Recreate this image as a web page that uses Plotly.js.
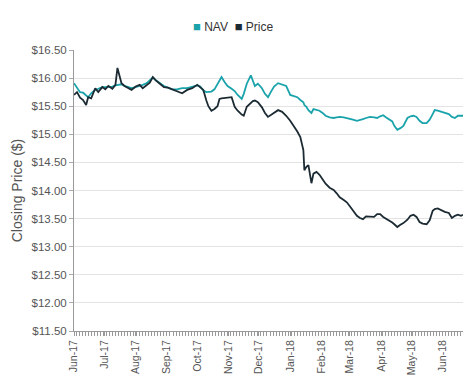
<!DOCTYPE html>
<html>
<head>
<meta charset="utf-8">
<script src="https://cdn.plot.ly/plotly-3.0.1.min.js"></script>
<style>html,body{margin:0;padding:0;background:#fff;}#chart{width:474px;height:382px;}</style>
</head>
<body>
<div id="chart"></div>
<script>
const dates = [
"2017-06-01","2017-06-04","2017-06-07","2017-06-10","2017-06-13","2017-06-15","2017-06-18","2017-06-22","2017-06-25","2017-06-29",
"2017-07-02","2017-07-05","2017-07-09","2017-07-12","2017-07-14","2017-07-16","2017-07-18","2017-07-21","2017-07-24","2017-07-28",
"2017-08-01","2017-08-05","2017-08-08","2017-08-12","2017-08-15","2017-08-18","2017-08-21","2017-08-25","2017-08-29","2017-09-02",
"2017-09-06","2017-09-11","2017-09-16","2017-09-21","2017-09-26","2017-10-01","2017-10-04","2017-10-07","2017-10-10","2017-10-12",
"2017-10-15","2017-10-18","2017-10-21","2017-10-23","2017-10-25","2017-10-28","2017-10-31","2017-11-04","2017-11-07","2017-11-10",
"2017-11-14","2017-11-16","2017-11-19","2017-11-23","2017-11-25","2017-11-27","2017-11-30","2017-12-04","2017-12-07","2017-12-10",
"2017-12-13","2017-12-16","2017-12-20","2017-12-24","2017-12-28","2018-01-01","2018-01-05","2018-01-08","2018-01-11","2018-01-14",
"2018-01-15","2018-01-17","2018-01-19","2018-01-22","2018-01-24","2018-01-27","2018-01-30","2018-02-02","2018-02-05","2018-02-09",
"2018-02-13","2018-02-16","2018-02-19","2018-02-23","2018-02-26","2018-03-01","2018-03-04","2018-03-08","2018-03-11","2018-03-14",
"2018-03-17","2018-03-21","2018-03-25","2018-03-28","2018-03-31","2018-04-03","2018-04-06","2018-04-09","2018-04-12","2018-04-14",
"2018-04-17","2018-04-20","2018-04-23","2018-04-27","2018-04-30","2018-05-03","2018-05-06","2018-05-09","2018-05-12","2018-05-16",
"2018-05-19","2018-05-22","2018-05-24","2018-05-27","2018-05-30","2018-06-03","2018-06-07","2018-06-10","2018-06-13","2018-06-16",
"2018-06-19","2018-06-21"
];
const nav = [
15.91,15.82,15.75,15.74,15.70,15.66,15.73,15.79,15.81,15.84,
15.84,15.84,15.85,15.87,15.88,15.89,15.89,15.86,15.84,15.82,
15.84,15.86,15.88,15.91,15.96,16.01,15.96,15.91,15.86,15.83,
15.80,15.80,15.82,15.82,15.85,15.87,15.85,15.78,15.75,15.75,
15.76,15.80,15.90,15.97,16.02,15.93,15.86,15.81,15.77,15.70,
15.63,15.72,15.90,16.05,15.95,15.86,15.90,15.82,15.72,15.66,
15.76,15.85,15.91,15.89,15.86,15.70,15.68,15.66,15.61,15.57,
15.52,15.49,15.43,15.38,15.45,15.44,15.42,15.38,15.33,15.30,
15.29,15.30,15.31,15.30,15.29,15.27,15.26,15.24,15.25,15.27,
15.29,15.31,15.30,15.29,15.32,15.34,15.30,15.27,15.23,15.15,
15.08,15.11,15.15,15.29,15.32,15.33,15.31,15.24,15.20,15.20,
15.26,15.36,15.43,15.42,15.40,15.38,15.36,15.31,15.29,15.33,
15.33,15.33
];
const price = [
15.70,15.75,15.65,15.61,15.52,15.66,15.64,15.82,15.75,15.84,
15.80,15.86,15.81,15.88,16.18,16.04,15.91,15.86,15.83,15.79,
15.85,15.88,15.82,15.88,15.92,16.02,15.96,15.90,15.84,15.83,
15.80,15.76,15.73,15.79,15.82,15.88,15.84,15.79,15.60,15.50,
15.42,15.45,15.50,15.63,15.64,15.65,15.66,15.66,15.49,15.42,
15.35,15.33,15.49,15.56,15.59,15.60,15.57,15.48,15.38,15.31,
15.35,15.39,15.43,15.40,15.33,15.24,15.14,15.05,14.95,14.72,
14.36,14.42,14.45,14.13,14.30,14.33,14.28,14.20,14.12,14.05,
14.01,13.95,13.88,13.83,13.79,13.72,13.65,13.55,13.51,13.49,
13.54,13.53,13.53,13.58,13.58,13.53,13.50,13.47,13.43,13.40,
13.35,13.39,13.42,13.48,13.55,13.57,13.53,13.44,13.41,13.40,
13.47,13.64,13.67,13.68,13.65,13.62,13.60,13.51,13.55,13.57,
13.55,13.57
];
const seriesNames = ["NAV", "Price"];
const seriesColors = ["#1aa3ab", "#1c2b33"];

const font = "Arial, 'Liberation Sans', sans-serif";
const traces = [
  {x: dates, y: nav, type: "scatter", mode: "lines", name: seriesNames[0],
   line: {color: seriesColors[0], width: 1.8}, hoverinfo: "x+y"},
  {x: dates, y: price, type: "scatter", mode: "lines", name: seriesNames[1],
   line: {color: seriesColors[1], width: 1.8}, hoverinfo: "x+y"}
];

const legendText = seriesNames.map((n, i) =>
  '<span style="color:' + seriesColors[i] + ';font-size:13px">\u25A0</span> ' + n).join('  ');

const layout = {
  width: 474, height: 382,
  margin: {l: 74, r: 11, t: 50, b: 51},
  paper_bgcolor: "#fff", plot_bgcolor: "#fff",
  font: {family: font, color: "#555", size: 11},
  showlegend: false,
  annotations: [{
    text: legendText, xref: "paper", yref: "paper", x: 0.409, y: 1.082,
    xanchor: "center", yanchor: "middle", showarrow: false,
    font: {family: font, size: 12, color: "#333"}
  }],
  xaxis: {
    type: "date",
    range: ["2017-06-01", "2018-06-21"],
    tick0: "2017-06-01", dtick: "M1", tickformat: "%b-%y",
    tickangle: -90, tickfont: {family: font, size: 10.5, color: "#555"},
    ticks: "outside", ticklen: 4, tickcolor: "#999",
    minor: {ticks: "outside", ticklen: 4, tickcolor: "#999", dtick: 3 * 86400000, showgrid: false},
    showgrid: false, zeroline: false,
    showline: true, linecolor: "#999", linewidth: 1
  },
  yaxis: {
    range: [11.5, 16.5], dtick: 0.5, tick0: 11.5,
    tickprefix: "$", tickformat: ".2f",
    tickfont: {family: font, size: 11.5, color: "#555"},
    ticks: "outside", ticklen: 4, tickcolor: "#aaa",
    showgrid: true, gridcolor: "#e3e3e3", gridwidth: 1, zeroline: false,
    showline: true, linecolor: "#999", linewidth: 1,
    title: {text: "Closing Price ($)", font: {family: font, size: 14, color: "#555"}, standoff: 5}
  }
};

Plotly.newPlot("chart", traces, layout, {displayModeBar: false, staticPlot: true});
</script>
</body>
</html>
